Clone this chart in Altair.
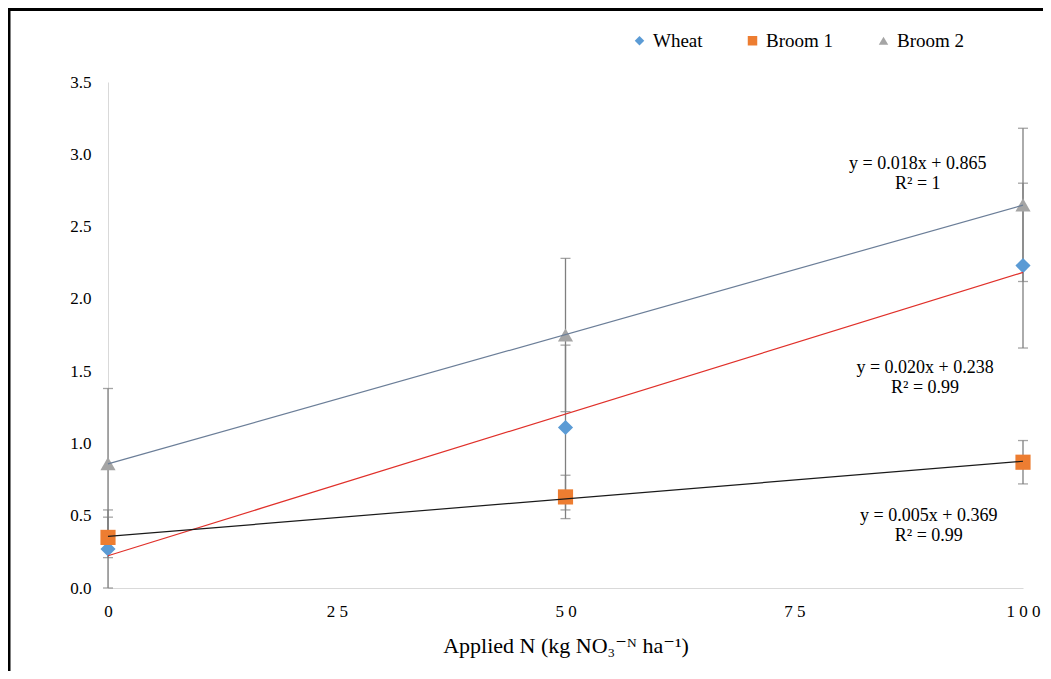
import altair as alt
import pandas as pd

# ---- data ----
series = ["Wheat", "Broom 1", "Broom 2"]
n_rates = [0, 50, 100]
wheat = [0.27, 1.11, 2.23]
broom1 = [0.35, 0.63, 0.87]
broom2 = [0.86, 1.75, 2.65]
wheat_err = [0.27, 0.57, 0.57]
broom1_err = [0.14, 0.15, 0.15]
broom2_err = [0.52, 0.53, 0.53]

point_colors = ["#5b9bd5", "#ed7d31", "#a5a5a5"]
point_shapes = ["diamond", "square", "triangle-up"]
trend_colors = ["#e0302a", "#1a1a1a", "#6b7e98"]

eq_labels = ["y = 0.020x + 0.238\nR² = 0.99",
             "y = 0.005x + 0.369\nR² = 0.99",
             "y = 0.018x + 0.865\nR² = 1"]
eq_x = [89.3, 89.7, 88.5]
eq_y = [1.52, 0.50, 2.93]

x_ticks = [0, 25, 50, 75, 100]
y_ticks = [0.0, 0.5, 1.0, 1.5, 2.0, 2.5, 3.0, 3.5]

FONT = "Times New Roman, Liberation Serif, DejaVu Serif, serif"

rows = []
for s, vals, errs in zip(series, [wheat, broom1, broom2], [wheat_err, broom1_err, broom2_err]):
    for x, v, e in zip(n_rates, vals, errs):
        rows.append({"series": s, "N": x, "DW": v, "lo": max(v - e, 0), "hi": v + e})
df = pd.DataFrame(rows)
eq_df = pd.DataFrame({"series": series, "label": eq_labels, "x": eq_x, "y": eq_y})

xscale = alt.Scale(domain=[0, 100], nice=False, zero=False)
yscale = alt.Scale(domain=[0, 3.5], nice=False)

xenc = alt.X("N:Q", scale=xscale,
             axis=alt.Axis(values=x_ticks, title="Applied N (kg NO₃⁻ᴺ ha⁻¹)",
                           labelExpr="join(split(datum.label, ''), ' ')",
                           labelFlush=False,
                           grid=False, ticks=False, domainColor="#d9d9d9",
                           labelFont=FONT, labelFontSize=17, labelColor="#000",
                           labelPadding=15, titleFont=FONT, titleFontSize=22,
                           titleFontWeight="normal", titleColor="#000", titlePadding=16))
yenc = alt.Y("DW:Q", scale=yscale,
             axis=alt.Axis(values=y_ticks, format=".1f", title="Plant DW (g plant⁻¹)",
                           grid=False, ticks=False, domainColor="#d9d9d9",
                           labelFont=FONT, labelFontSize=17, labelColor="#000",
                           labelPadding=17, titleFont=FONT, titleFontSize=22,
                           titleFontWeight="normal", titleColor="#000", titlePadding=17))

base = alt.Chart(df)

errbars = base.mark_errorbar(ticks=alt.MarkConfig(size=10, color="#7f7f7f"),
                             color="#7f7f7f", thickness=1.3).encode(
    x=alt.X("N:Q", scale=xscale),
    y=alt.Y("lo:Q", scale=yscale, title=None),
    y2="hi:Q",
)

points = base.mark_point(filled=True, size=230, opacity=1).encode(
    x=xenc, y=yenc,
    color=alt.Color("series:N", scale=alt.Scale(domain=series, range=point_colors),
                    legend=alt.Legend(title=None, orient="none", direction="horizontal",
                                      legendX=522, legendY=-51, columnPadding=40,
                                      labelFont=FONT, labelFontSize=19, labelColor="#000",
                                      symbolSize=90, labelOffset=4, symbolStrokeWidth=0)),
    shape=alt.Shape("series:N", scale=alt.Scale(domain=series, range=point_shapes)),
)

trends = base.transform_regression("N", "DW", groupby=["series"], extent=[0, 100]).transform_calculate(
    trend="datum.series").mark_line(strokeWidth=1.2).encode(
    x=alt.X("N:Q", scale=xscale),
    y=alt.Y("DW:Q", scale=yscale),
    stroke=alt.Stroke("trend:N", scale=alt.Scale(domain=series, range=trend_colors), legend=None),
)

eqs = alt.Chart(eq_df).mark_text(font=FONT, fontSize=18, color="#000", lineBreak="\n",
                                 lineHeight=20, align="center", baseline="middle").encode(
    x=alt.X("x:Q", scale=xscale), y=alt.Y("y:Q", scale=yscale), text="label:N")

frame = alt.Chart(pd.DataFrame({"f": [0]})).mark_rect(
    fillOpacity=0, stroke="#000", strokeWidth=3).encode(
    x=alt.value(-99), x2=alt.value(960), y=alt.value(-72.5), y2=alt.value(620))

chart = alt.layer(frame, errbars, points, trends, eqs).properties(
    width=915, height=506,
    autosize=alt.AutoSizeParams(type="none"),
    padding={"left": 100, "top": 74, "right": 20, "bottom": 83},
).configure(background="white").configure_view(stroke=None)

chart.save("out.html", embed_options={"renderer": "svg", "actions": False})
